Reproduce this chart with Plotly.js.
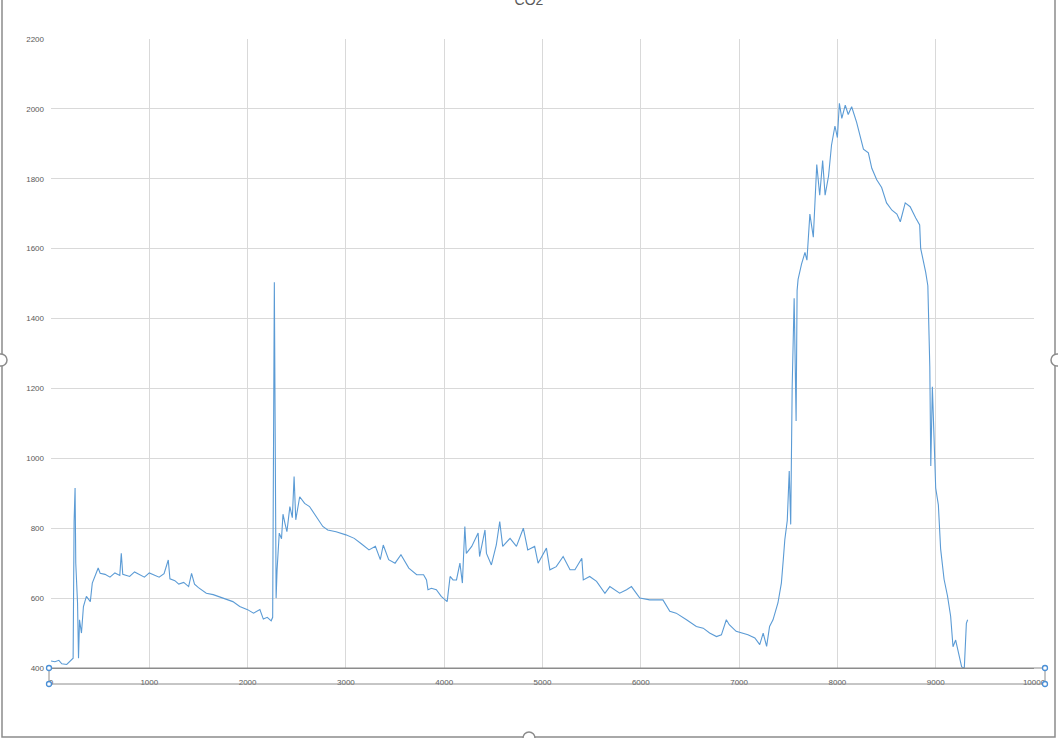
<!DOCTYPE html>
<html>
<head>
<meta charset="utf-8">
<script src="https://cdn.plot.ly/plotly-3.0.1.min.js"></script>
<style>
html,body{margin:0;padding:0;background:#fff;}
#chart{width:1058px;height:738px;}
</style>
</head>
<body>
<div id="chart"></div>
<script>
const sampleIndex = [0,40,80,110,160,200,225,235,245,252,262,270,280,290,310,330,360,400,420,480,500,550,600,650,700,715,730,800,850,900,950,1000,1050,1100,1150,1193,1210,1260,1300,1350,1400,1430,1460,1500,1580,1650,1750,1850,1920,2000,2060,2125,2160,2200,2240,2255,2272,2290,2300,2322,2345,2360,2380,2400,2430,2455,2473,2490,2530,2580,2630,2700,2765,2815,2900,3000,3085,3150,3235,3300,3350,3380,3435,3500,3560,3640,3720,3790,3820,3835,3870,3920,3970,4030,4060,4090,4125,4160,4185,4210,4225,4280,4345,4360,4415,4430,4480,4530,4565,4595,4670,4735,4805,4850,4920,4955,5040,5075,5140,5210,5280,5330,5400,5415,5480,5550,5635,5685,5785,5855,5905,5990,6090,6160,6225,6295,6360,6465,6565,6635,6700,6770,6820,6870,6900,6970,7090,7160,7210,7245,7280,7310,7345,7395,7430,7450,7465,7490,7510,7525,7540,7560,7570,7580,7590,7600,7635,7670,7690,7720,7755,7790,7820,7850,7875,7910,7940,7975,8000,8020,8045,8080,8110,8145,8195,8265,8315,8350,8400,8450,8500,8555,8605,8640,8690,8740,8797,8837,8847,8880,8898,8920,8932,8940,8950,8966,8983,9000,9027,9050,9085,9120,9152,9176,9203,9237,9264,9291,9312,9325];
const co2 = [420,418,422,412,410,422,428,820,915,700,640,586,428,538,500,576,605,590,643,686,671,668,660,672,665,728,668,662,675,668,660,672,665,660,670,709,655,650,640,645,633,671,640,630,614,610,600,590,576,567,557,567,540,545,535,545,1504,600,681,786,770,840,814,790,862,830,948,824,890,871,862,833,805,795,790,781,771,757,738,748,710,752,710,700,724,686,667,667,652,624,628,624,605,590,662,652,652,700,643,805,728,748,786,719,795,728,695,752,819,748,771,748,800,738,748,700,743,681,690,719,681,681,714,652,662,648,614,633,614,624,633,600,595,595,595,562,557,538,519,514,500,490,495,538,524,505,495,486,467,500,462,519,538,586,643,712,767,822,964,811,1205,1458,1315,1107,1480,1512,1556,1589,1567,1699,1633,1841,1753,1852,1753,1808,1896,1951,1918,2016,1973,2011,1984,2006,1962,1885,1874,1830,1797,1775,1731,1710,1699,1677,1731,1720,1688,1668,1601,1562,1533,1494,1301,1263,978,1205,1060,915,867,741,654,606,548,461,480,432,403,400,528,538];
const xTickVals = [0,1000,2000,3000,4000,5000,6000,7000,8000,9000,10000];
const yTickVals = [400,600,800,1000,1200,1400,1600,1800,2000,2200];
const chartTitle = 'CO2';

// pixel -> paper helpers for decoration shapes
const L = 51, R = 1034, T = 39, B = 668;
const px = v => (v - L) / (R - L);
const py = v => (B - v) / (B - T);
function circ(cx, cy, r, color, fill, w) {
  return {type:'circle', xref:'paper', yref:'paper',
    x0:px(cx-r), x1:px(cx+r), y0:py(cy+r), y1:py(cy-r),
    line:{color:color, width:w}, fillcolor:fill, layer:'above'};
}
const shapes = [
  {type:'rect', xref:'paper', yref:'paper', x0:px(2), x1:px(1055), y0:py(737), y1:py(-10),
   line:{color:'#8c8c8c', width:1.5}, fillcolor:'rgba(0,0,0,0)', layer:'below'},
  {type:'rect', xref:'paper', yref:'paper', x0:px(49), x1:px(1045), y0:py(684), y1:py(668),
   line:{color:'#8c8c8c', width:1}, fillcolor:'rgba(0,0,0,0)', layer:'above'},
  circ(1, 360, 6, '#8c8c8c', '#ffffff', 1.5),
  circ(1057, 360, 6, '#8c8c8c', '#ffffff', 1.5),
  circ(529, 738, 6, '#8c8c8c', '#ffffff', 1.5),
  circ(49, 668, 2.5, '#4a8fd6', '#ffffff', 1.3),
  circ(1045, 668, 2.5, '#4a8fd6', '#ffffff', 1.3),
  circ(49, 684, 2.5, '#4a8fd6', '#ffffff', 1.3),
  circ(1045, 684, 2.5, '#4a8fd6', '#ffffff', 1.3)
];

const trace = {
  x: sampleIndex, y: co2, type:'scatter', mode:'lines',
  line:{color:'#5b9bd5', width:1.1}, hoverinfo:'skip'
};
const tickFont = {family:'"Liberation Sans", Arial, sans-serif', size:8, color:'#595959'};
const layout = {
  width:1058, height:738,
  margin:{l:L, r:1058-R, t:T, b:738-B, pad:0},
  paper_bgcolor:'#ffffff', plot_bgcolor:'#ffffff',
  showlegend:false,
  title:{text:chartTitle, x:0.5, xref:'container', xanchor:'center',
    y:1.0, yref:'container', yanchor:'middle',
    font:{family:'"Liberation Sans", Arial, sans-serif', size:14, color:'#595959'}},
  xaxis:{range:[0,10000], tickvals:xTickVals, ticktext:xTickVals.map(String),
    showgrid:true, gridcolor:'#d9d9d9', gridwidth:1, zeroline:false,
    showline:true, linecolor:'#8c8c8c', linewidth:1, ticks:'', ticklabelstandoff:6,
    tickfont:tickFont, fixedrange:true},
  yaxis:{range:[400,2200], tickvals:yTickVals, ticktext:yTickVals.map(String),
    showgrid:true, gridcolor:'#d9d9d9', gridwidth:1, zeroline:false,
    showline:false, ticks:'', ticklabelstandoff:6,
    tickfont:tickFont, fixedrange:true},
  shapes: shapes
};
Plotly.newPlot('chart', [trace], layout, {displayModeBar:false, staticPlot:true});
</script>
</body>
</html>
